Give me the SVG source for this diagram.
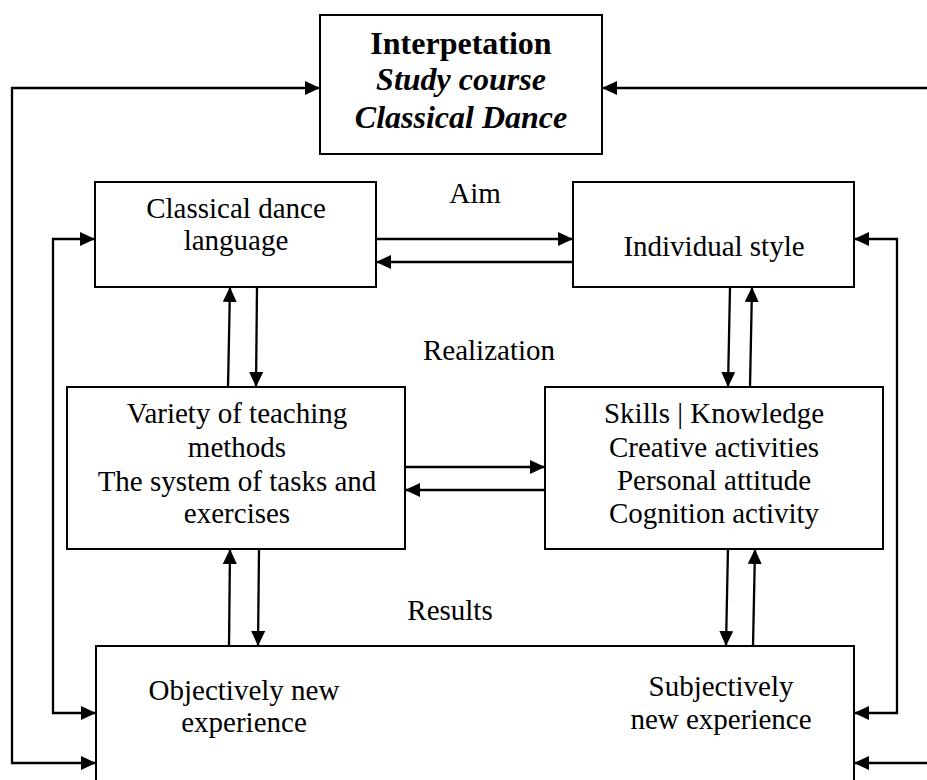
<svg xmlns="http://www.w3.org/2000/svg" width="927" height="780" viewBox="0 0 927 780">
<style>
.box{fill:#fff;stroke:#000;stroke-width:2}
.t{font-family:"Liberation Serif","Times New Roman",serif;font-size:29px;fill:#000;text-anchor:middle}
.tb{font-family:"Liberation Serif","Times New Roman",serif;font-size:32px;font-weight:bold;fill:#000;text-anchor:middle}
.tbi{font-style:italic}
.c{fill:none;stroke:#000;stroke-width:2.3}
.ae{marker-end:url(#ah)}
.as{marker-start:url(#ah)}
</style>
<defs>
<marker id="ah" markerUnits="userSpaceOnUse" markerWidth="15" markerHeight="14" refX="15" refY="7" orient="auto-start-reverse">
<path d="M0,0 L15,7 L0,14 z" fill="#000"/>
</marker>
</defs>
<rect width="927" height="780" fill="#fff"/>
<g id="connectors">
<path class="c as ae" d="M320,88 H12 V763 H96"/>
<path class="c as" d="M602,88 H927"/>
<path class="c as" d="M854,763 H927"/>
<path class="c as ae" d="M95,239 H53 V713 H96"/>
<path class="c as ae" d="M854,239 H897 V713 H854"/>
<path class="c ae" d="M376,239 H573"/>
<path class="c ae" d="M573,262 H376"/>
<path class="c ae" d="M405,467 H545"/>
<path class="c ae" d="M545,490 H405"/>
<path class="c ae" d="M390,713 H587"/>
<path class="c ae" d="M589,744 H391"/>
<path class="c ae" d="M228,387 L230,287"/>
<path class="c ae" d="M257,287 L256,387"/>
<path class="c ae" d="M730,287 L728,387"/>
<path class="c ae" d="M750,387 L752,287"/>
<path class="c ae" d="M229,646 L230,549"/>
<path class="c ae" d="M259,549 L258,646"/>
<path class="c ae" d="M728,547 L726,646"/>
<path class="c ae" d="M753,646 L755,549"/>
</g>
<g id="interpretation">
<rect class="box" x="320" y="15" width="282" height="139"/>
<text class="tb" x="461" y="54">Interpetation</text>
<text class="tb tbi" x="461" y="90">Study course</text>
<text class="tb tbi" x="461" y="128">Classical Dance</text>
</g>
<g id="language">
<rect class="box" x="95" y="182" width="281" height="105"/>
<text class="t" x="236" y="218">Classical dance</text>
<text class="t" x="236" y="250">language</text>
</g>
<g id="style">
<rect class="box" x="573" y="182" width="281" height="105"/>
<text class="t" x="714" y="256">Individual style</text>
</g>
<g id="methods">
<rect class="box" x="67" y="387" width="338" height="162"/>
<text class="t" x="237" y="423">Variety of teaching</text>
<text class="t" x="237" y="457">methods</text>
<text class="t" x="237" y="491">The system of tasks and</text>
<text class="t" x="237" y="523">exercises</text>
</g>
<g id="skills">
<rect class="box" x="545" y="387" width="338" height="162"/>
<text class="t" x="714" y="423">Skills | Knowledge</text>
<text class="t" x="714" y="457">Creative activities</text>
<text class="t" x="714" y="490">Personal attitude</text>
<text class="t" x="714" y="523">Cognition activity</text>
</g>
<g id="experience">
<rect class="box" x="96" y="646" width="758" height="160"/>
<text class="t" x="244" y="700">Objectively new</text>
<text class="t" x="244" y="732">experience</text>
<text class="t" x="721" y="696">Subjectively</text>
<text class="t" x="721" y="729">new experience</text>
</g>
<g id="labels">
<text class="t" x="475" y="203">Aim</text>
<text class="t" x="489" y="360">Realization</text>
<text class="t" x="450" y="620">Results</text>
</g>
</svg>
